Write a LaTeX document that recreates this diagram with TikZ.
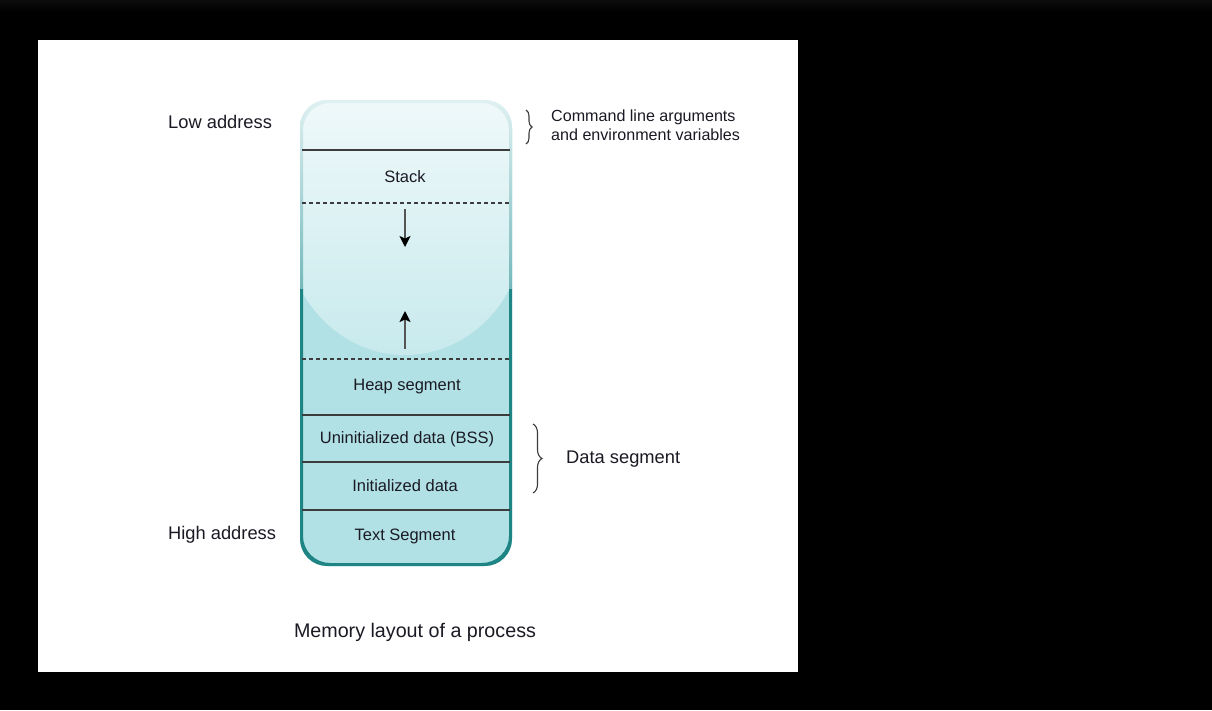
\documentclass[tikz,border=0pt]{standalone}
\usepackage{fontspec}
\setmainfont{Liberation Sans}
\usetikzlibrary{arrows.meta,decorations.pathreplacing}
\definecolor{fillbot}{HTML}{B1E1E4}
\definecolor{filltop}{HTML}{F0F9FA}
\definecolor{fillmid}{HTML}{C8EAED}
\definecolor{bordtop}{HTML}{E2F2F3}
\definecolor{bordmid}{HTML}{74B8BB}
\definecolor{borddark}{HTML}{1E8584}
\definecolor{linegray}{HTML}{3C3C3C}
\definecolor{shaftgray}{HTML}{555555}
\definecolor{txt}{HTML}{1A1A24}
\tikzset{
  seglabel/.style={font=\fontsize{16.5}{19}\selectfont, text=txt, inner sep=0pt},
  sidelabel/.style={font=\fontsize{18.3}{21}\selectfont, text=txt, inner sep=0pt},
  sepline/.style={draw=linegray, line width=1.6},
  dashline/.style={draw=linegray, line width=1.5, dash pattern=on 4 off 3},
  growarrow/.style={draw=shaftgray, line width=1.8, -{Stealth[length=11,width=11,inset=2.5,black]}},
  bracestyle/.style={draw=linegray, line width=1.1, decorate}
}
\begin{document}
\begin{tikzpicture}[x=1pt,y=-1pt]
% background
\fill[black] (0,0) rectangle (1212,710);
\shade[top color=black!95!white, bottom color=black] (0,0) rectangle (1212,12);
\fill[white] (38,40) rectangle (798,672);
% container fill
\begin{scope}
  \clip[rounded corners=28] (300,100) rectangle (512,566);
  \fill[fillbot] (295,95) rectangle (517,570);
  \shade[top color=filltop, bottom color=fillmid]
    (285,95) -- (525,95) -- (525,225)
    arc[start angle=0, end angle=180, x radius=120, y radius=130] -- cycle;
\end{scope}
% container border
\begin{scope}[even odd rule]
  \clip[rounded corners=27] (300,100) rectangle (512,566)
    (303,103) rectangle (509,563);
  \shade[top color=bordtop, bottom color=bordmid] (295,95) rectangle (517,289);
  \fill[borddark] (295,289) rectangle (517,570);
\end{scope}
% separators
\coordinate (l1) at (302,150); \coordinate (r1) at (510,150);
\coordinate (l2) at (302,203); \coordinate (r2) at (510,203);
\coordinate (l3) at (302,359); \coordinate (r3) at (510,359);
\coordinate (l4) at (302,415); \coordinate (r4) at (510,415);
\coordinate (l5) at (302,462); \coordinate (r5) at (510,462);
\coordinate (l6) at (302,510); \coordinate (r6) at (510,510);
\path[sepline] (l1) -- (r1);
\path[dashline] (l2) -- (r2);
\path[dashline] (l3) -- (r3);
\path[sepline] (l4) -- (r4);
\path[sepline] (l5) -- (r5);
\path[sepline] (l6) -- (r6);
% labels in segments
\node[seglabel] (stack) at (405,177) {Stack};
\node[seglabel] (heap) at (407,387) {Heap segment};
\node[seglabel] (bss) at (407,439) {Uninitialized data (BSS)};
\node[seglabel] (init) at (405,486) {Initialized data};
\node[seglabel] (text) at (405,536) {Text Segment};
% growth arrows
\coordinate (d1) at (405,209); \coordinate (d2) at (405,247);
\coordinate (u1) at (405,349); \coordinate (u2) at (405,311);
\path[growarrow] (d1) -- (d2);
\path[growarrow] (u1) -- (u2);
% side labels
\node[sidelabel, anchor=west] (low) at (168,122) {Low address};
\node[sidelabel, anchor=west] (high) at (168,535) {High address};
% braces
\coordinate (b1t) at (526,110); \coordinate (b1b) at (526,144);
\path[bracestyle, decoration={brace, amplitude=6}] (b1t) -- (b1b);
\node[anchor=west, inner sep=0pt, align=left, text=txt,
  font=\fontsize{16.1}{19}\selectfont] (cmd) at (551,125) {Command line arguments\\and environment variables};
\coordinate (b2t) at (533,424); \coordinate (b2b) at (533,493);
\path[bracestyle, decoration={brace, amplitude=9}] (b2t) -- (b2b);
\node[sidelabel, anchor=west] (data) at (566,459) {Data segment};
% caption
\node[inner sep=0pt, text=txt, font=\fontsize{19.7}{23}\selectfont] (cap) at (415,632) {Memory layout of a process};
\end{tikzpicture}
\end{document}
